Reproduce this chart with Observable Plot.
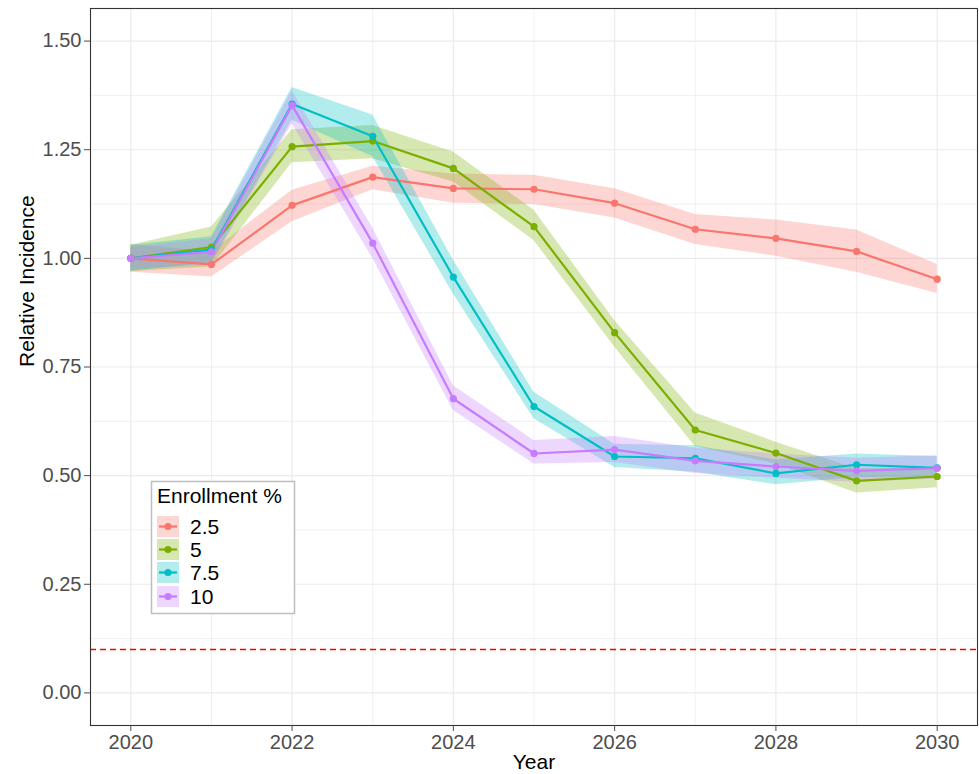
<!DOCTYPE html>
<html>
<head>
<meta charset="utf-8">
<script src="https://cdn.jsdelivr.net/npm/d3@7"></script>
<script src="https://cdn.jsdelivr.net/npm/@observablehq/plot@0.6"></script>
<style>
  html, body { margin: 0; padding: 0; background: white; }
  #wrap { position: relative; width: 979px; height: 774px; }
  #legend { position: absolute; left: 0; top: 0; }
</style>
</head>
<body>
<div id="wrap"></div>
<script>
const years = [2020, 2021, 2022, 2023, 2024, 2025, 2026, 2027, 2028, 2029, 2030];
const groups = ["2.5", "5", "7.5", "10"];
const colors = ["#F8766D", "#7CAE00", "#00BFC4", "#C77CFF"];

const val_2_5 = [1.000, 0.986, 1.122, 1.187, 1.161, 1.159, 1.127, 1.067, 1.046, 1.016, 0.952];
const lo_2_5  = [0.968, 0.957, 1.084, 1.158, 1.127, 1.124, 1.093, 1.032, 1.005, 0.968, 0.919];
const hi_2_5  = [1.032, 1.015, 1.157, 1.212, 1.194, 1.191, 1.160, 1.101, 1.088, 1.065, 0.986];

const val_5 = [1.000, 1.026, 1.257, 1.270, 1.207, 1.073, 0.829, 0.605, 0.552, 0.488, 0.498];
const lo_5  = [0.970, 0.980, 1.220, 1.229, 1.176, 1.041, 0.796, 0.567, 0.527, 0.460, 0.472];
const hi_5  = [1.030, 1.072, 1.296, 1.306, 1.245, 1.111, 0.857, 0.644, 0.577, 0.515, 0.519];

const val_7_5 = [1.000, 1.020, 1.355, 1.281, 0.957, 0.659, 0.544, 0.540, 0.505, 0.525, 0.518];
const lo_7_5  = [0.970, 0.990, 1.318, 1.234, 0.918, 0.631, 0.519, 0.508, 0.479, 0.496, 0.494];
const hi_7_5  = [1.030, 1.050, 1.393, 1.330, 0.996, 0.692, 0.572, 0.569, 0.536, 0.550, 0.544];

const val_10 = [1.000, 1.015, 1.352, 1.035, 0.677, 0.551, 0.560, 0.534, 0.521, 0.511, 0.517];
const lo_10  = [0.975, 0.985, 1.310, 1.000, 0.650, 0.527, 0.530, 0.505, 0.494, 0.485, 0.492];
const hi_10  = [1.025, 1.045, 1.385, 1.070, 0.707, 0.581, 0.590, 0.563, 0.550, 0.540, 0.546];

const threshold = 0.1;
const xTicks = [2020, 2022, 2024, 2026, 2028, 2030];
const xMinor = [2021, 2023, 2025, 2027, 2029];
const yTicks = [0, 0.25, 0.5, 0.75, 1.0, 1.25, 1.5];
const yMinor = [0.125, 0.375, 0.625, 0.875, 1.125, 1.375];

const series = [
  [val_2_5, lo_2_5, hi_2_5],
  [val_5, lo_5, hi_5],
  [val_7_5, lo_7_5, hi_7_5],
  [val_10, lo_10, hi_10]
];
const data = [];
series.forEach(([v, lo, hi], gi) => {
  years.forEach((yr, i) => data.push({year: yr, group: groups[gi], value: v[i], lo: lo[i], hi: hi[i]}));
});

const colorScale = {domain: groups, range: colors};

const chart = Plot.plot({
  width: 979,
  height: 774,
  marginLeft: 90,
  marginRight: 2,
  marginTop: 8,
  marginBottom: 49,
  style: {fontFamily: "'Liberation Sans', Arial, sans-serif", fontSize: "20px", background: "white"},
  x: {domain: [2019.5, 2030.5], label: null},
  y: {domain: [-0.075, 1.575], label: null},
  color: colorScale,
  marks: [
    Plot.ruleX(xMinor, {stroke: "#EBEBEB", strokeWidth: 0.7}),
    Plot.ruleY(yMinor, {stroke: "#EBEBEB", strokeWidth: 0.7}),
    Plot.ruleX(xTicks, {stroke: "#EBEBEB", strokeWidth: 1.2}),
    Plot.ruleY(yTicks, {stroke: "#EBEBEB", strokeWidth: 1.2}),
    Plot.ruleY([threshold], {stroke: "#FF0000", strokeDasharray: "6,4", strokeWidth: 1.6}),
    Plot.areaY(data, {x: "year", y1: "lo", y2: "hi", z: "group", fill: "group", fillOpacity: 0.3}),
    Plot.lineY(data, {x: "year", y: "value", z: "group", stroke: "group", strokeWidth: 2.2}),
    Plot.dot(data, {x: "year", y: "value", fill: "group", r: 3.6}),
    Plot.frame({stroke: "#333333", strokeWidth: 1.1}),
    Plot.axisX({ticks: xTicks, tickFormat: d => String(d), tickSize: 6, tickPadding: 3, color: "#4D4D4D", fontSize: 20, label: null}),
    Plot.axisY({ticks: yTicks, tickFormat: d => d.toFixed(2), tickSize: 6, tickPadding: 3, color: "#4D4D4D", fontSize: 20, label: null}),
    Plot.text(["Year"], {frameAnchor: "bottom", dy: 43, fontSize: 21, fill: "black"}),
    Plot.text(["Relative Incidence"], {frameAnchor: "left", dx: -63, rotate: -90, fontSize: 21, fill: "black"})
  ]
});
document.getElementById("wrap").appendChild(chart);

// Legend
const lg = d3.select("#wrap").append("svg")
  .attr("id", "legend")
  .attr("width", 979).attr("height", 774)
  .style("pointer-events", "none")
  .style("font-family", "'Liberation Sans', Arial, sans-serif");
lg.append("rect").attr("x", 151.5).attr("y", 481.5).attr("width", 143).attr("height", 132)
  .attr("fill", "white").attr("stroke", "#BEBEBE").attr("stroke-width", 1.5);
lg.append("text").attr("x", 157).attr("y", 503).attr("font-size", 21).attr("fill", "black").text("Enrollment %");
const keyTops = [516, 539, 562, 586];
groups.forEach((g, i) => {
  const y0 = keyTops[i];
  lg.append("rect").attr("x", 157).attr("y", y0).attr("width", 22).attr("height", 21)
    .attr("fill", colors[i]).attr("fill-opacity", 0.3);
  lg.append("line").attr("x1", 159).attr("x2", 177).attr("y1", y0 + 10.5).attr("y2", y0 + 10.5)
    .attr("stroke", colors[i]).attr("stroke-width", 2.2);
  lg.append("circle").attr("cx", 168).attr("cy", y0 + 10.5).attr("r", 3.6).attr("fill", colors[i]);
  lg.append("text").attr("x", 190).attr("y", y0 + 18).attr("font-size", 21).attr("fill", "black").text(g);
});
</script>
</body>
</html>
